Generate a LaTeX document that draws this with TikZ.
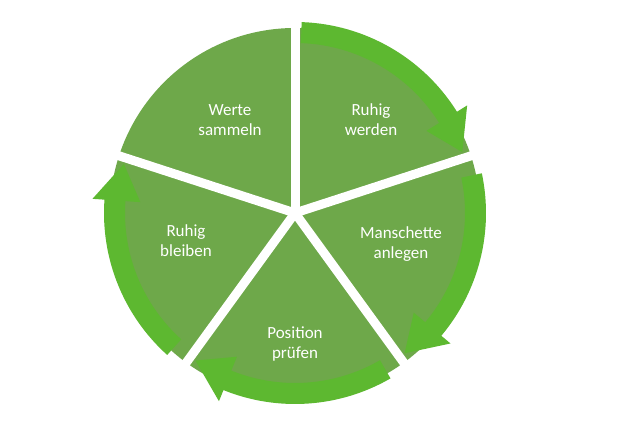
\documentclass[tikz,border=0pt]{standalone}
\usepackage{fontspec}
\setmainfont{Carlito}
\definecolor{sec}{HTML}{6EA84A}
\definecolor{arr}{HTML}{5DB830}
\tikzset{lbl/.style={text=white,font=\fontsize{17}{20}\selectfont,align=center},
  sector/.style={fill=sec},
  gap/.style={white,line width=9pt},
  arrowband/.style={fill=arr}}
\begin{document}
\begin{tikzpicture}[x=1pt,y=1pt]
\useasboundingbox (0,0) rectangle (633,427);
\fill[white] (0,0) rectangle (633,427);
\coordinate (c) at (295,214);
\begin{scope}[shift={(c)}]
\fill[sector] (0,0) circle (185);
\foreach \a in {90,18,-54,-126,162} \draw[gap] (0,0) -- (\a:200);
\foreach \a/\b in {88/20,12/-52,-60/-124,-132/-196}{
  \pgfmathsetmacro\h{\b+12}
  \fill[arrowband] (\a:191) arc[start angle=\a,end angle=\h,radius=191]
    -- (\h:203) -- (\b:178) -- (\h:155) -- (\h:170)
    arc[start angle=\h,end angle=\a,radius=170] -- cycle;
}
\end{scope}
\node[lbl] (w) at (230,307) {Werte\\sammeln};
\node[lbl] (r) at (371,307) {Ruhig\\werden};
\node[lbl] (m) at (401,183) {Manschette\\anlegen};
\node[lbl] (p) at (295,83) {Position\\prüfen};
\node[lbl] (b) at (186,186) {Ruhig\\bleiben};
\end{tikzpicture}
\end{document}
